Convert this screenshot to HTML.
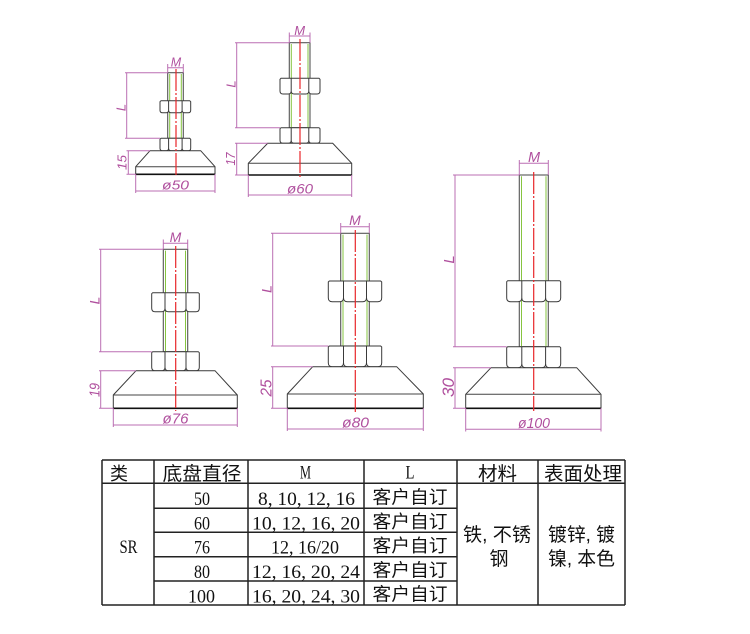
<!DOCTYPE html>
<html><head><meta charset="utf-8"><style>
html,body{margin:0;padding:0;background:#fff;}
svg{display:block;}
.d{stroke:#bb6fb3;stroke-width:1;fill:none;}
.t{fill:#b0509e;font-family:"Liberation Sans",sans-serif;font-style:italic;}
.o{stroke:#3a3a3a;stroke-width:1;fill:#fff;}
.s{stroke:#555;stroke-width:1.1;fill:#fff;}
.g{stroke:#86c440;stroke-width:1;fill:none;}
.r{stroke:#e8262a;stroke-width:1.2;fill:none;stroke-dasharray:22 2 2 2;}
.bl{stroke:#111;stroke-width:1.6;fill:none;}
.ml{stroke:#444;stroke-width:1;fill:none;}
.tb{stroke:#222;stroke-width:1.5;fill:none;}
.cj{font-family:"Liberation Sans","Noto Sans CJK SC",sans-serif;fill:#111;}
.sf{font-family:"Liberation Serif",serif;fill:#111;}
</style></head><body>
<svg width="750" height="634" viewBox="0 0 750 634" xmlns="http://www.w3.org/2000/svg">

<!-- ============ FOOT 1 (ø50) ============ -->
<rect class="s" x="167.7" y="72.7" width="15.6" height="65.6"/>
<path class="g" d="M169.7 74 V138.3 M181.3 74 V138.3"/>
<path class="o" d="M160 101.7 L161 100.7 H189.7 L190.7 101.7 V110.2 Q190.7 112.7 188.2 112.7 H184.6 Q182.1 112.7 182.1 110.2 Q182.1 112.7 179.6 112.7 H171.1 Q168.6 112.7 168.6 110.2 Q168.6 112.7 166.1 112.7 H162.5 Q160 112.7 160 110.2 Z M168.6 100.7 V110.2 M182.1 100.7 V110.2"/>
<path class="o" d="M160 139.3 L161 138.3 H189.7 L190.7 139.3 V148.2 Q190.7 150.7 188.2 150.7 H184.6 Q182.1 150.7 182.1 148.2 Q182.1 150.7 179.6 150.7 H171.1 Q168.6 150.7 168.6 148.2 Q168.6 150.7 166.1 150.7 H162.5 Q160 150.7 160 148.2 Z M168.6 138.3 V148.2 M182.1 138.3 V148.2"/>
<polygon class="o" points="150,150.7 200.7,150.7 215,166.7 215,174.3 135.7,174.3 135.7,166.7"/>
<path class="ml" d="M135.7 166.7 H215"/>
<path class="bl" d="M135.7 174.3 H215"/>
<path class="d" d="M167.7 72.7 V64 M183.3 72.7 V64 M167.7 67.7 H183.3 M126.7 72.7 V138.3 M125 72.7 H167.7 M125 138.3 H160 M128.3 150.7 V174.3 M126.5 150.7 H150 M126.5 174.3 H135.7 M135.7 174.3 V193 M215 174.3 V193 M135.7 191 H215"/>
<text class="t" x="176" y="66.3" font-size="12.5" text-anchor="middle">M</text>
<text class="t" font-size="13" text-anchor="middle" transform="translate(125.5,107.5) rotate(-90)">L</text>
<text class="t" font-size="13" text-anchor="middle" textLength="15" lengthAdjust="spacingAndGlyphs" transform="translate(126.5,162.5) rotate(-90)">15</text>
<text class="t" x="175.5" y="189.5" font-size="13" text-anchor="middle" textLength="27" lengthAdjust="spacingAndGlyphs">ø50</text>
<path class="r" d="M176 69 V177"/>

<!-- ============ FOOT 2 (ø60) ============ -->
<rect class="s" x="289.3" y="42.7" width="20.7" height="85"/>
<path class="g" d="M291.3 44 V127.7 M308 44 V127.7"/>
<path class="o" d="M280 79.3 L281 78.3 H319 L320 79.3 V91 Q320 94 317 94 H311.8 Q308.8 94 308.8 91 Q308.8 94 305.8 94 H294.2 Q291.2 94 291.2 91 Q291.2 94 288.2 94 H283 Q280 94 280 91 Z M291.2 78.3 V91 M308.8 78.3 V91"/>
<path class="o" d="M280 128.7 L281 127.7 H319 L320 128.7 V140.3 Q320 143.3 317 143.3 H311.8 Q308.8 143.3 308.8 140.3 Q308.8 143.3 305.8 143.3 H294.2 Q291.2 143.3 291.2 140.3 Q291.2 143.3 288.2 143.3 H283 Q280 143.3 280 140.3 Z M291.2 127.7 V140.3 M308.8 127.7 V140.3"/>
<polygon class="o" points="267.7,143.3 332.7,143.3 351.7,163.3 351.7,175 248.3,175 248.3,163.3"/>
<path class="ml" d="M248.3 163.3 H351.7"/>
<path class="bl" d="M248.3 175 H351.7"/>
<path class="d" d="M289.3 42.7 V32.5 M310 42.7 V32.5 M289.3 36 H310 M236.7 42.7 V127.7 M235 42.7 H289.3 M235 127.7 H280 M236.7 143.3 V175 M235 143.3 H267.7 M235 175 H248.3 M248.3 175 V197 M351.7 175 V197 M248.3 195 H351.7"/>
<text class="t" x="299.7" y="34.8" font-size="13" text-anchor="middle">M</text>
<text class="t" font-size="13" text-anchor="middle" transform="translate(235.5,84) rotate(-90)">L</text>
<text class="t" font-size="13" text-anchor="middle" textLength="13" lengthAdjust="spacingAndGlyphs" transform="translate(235,159) rotate(-90)">17</text>
<text class="t" x="300" y="193.5" font-size="13.5" text-anchor="middle" textLength="26" lengthAdjust="spacingAndGlyphs">ø60</text>
<path class="r" d="M300 39 V178"/>

<!-- ============ FOOT 3 (ø76) ============ -->
<rect class="s" x="163.3" y="249.3" width="24.4" height="102.4"/>
<path class="g" d="M165.5 250.6 V351.7 M185.5 250.6 V351.7"/>
<path class="o" d="M151.7 293.7 L152.7 292.7 H198.3 L199.3 293.7 V308.2 Q199.3 311.7 195.8 311.7 H189.5 Q186 311.7 186 308.2 Q186 311.7 182.5 311.7 H168.5 Q165 311.7 165 308.2 Q165 311.7 161.5 311.7 H155.2 Q151.7 311.7 151.7 308.2 Z M165 292.7 V308.2 M186 292.7 V308.2"/>
<path class="o" d="M151.7 352.7 L152.7 351.7 H198.3 L199.3 352.7 V367.2 Q199.3 370.7 195.8 370.7 H189.5 Q186 370.7 186 367.2 Q186 370.7 182.5 370.7 H168.5 Q165 370.7 165 367.2 Q165 370.7 161.5 370.7 H155.2 Q151.7 370.7 151.7 367.2 Z M165 351.7 V367.2 M186 351.7 V367.2"/>
<polygon class="o" points="136,370.7 215,370.7 237.3,395 237.3,408.3 113.3,408.3 113.3,395"/>
<path class="ml" d="M113.3 395 H237.3"/>
<path class="bl" d="M113.3 408.3 H237.3"/>
<path class="d" d="M163.3 249.3 V239.5 M187.7 249.3 V239.5 M163.3 243.3 H187.7 M100.7 249.3 V351.7 M99 249.3 H163.3 M99 351.7 H151.7 M100.7 370.7 V408.3 M99 370.7 H136 M99 408.3 H113.3 M113.3 408.3 V427 M237.3 408.3 V427 M113.3 425 H237.3"/>
<text class="t" x="175.5" y="242" font-size="14" text-anchor="middle">M</text>
<text class="t" font-size="14" text-anchor="middle" transform="translate(99.5,300.5) rotate(-90)">L</text>
<text class="t" font-size="15" text-anchor="middle" textLength="14" lengthAdjust="spacingAndGlyphs" transform="translate(99.5,390) rotate(-90)">19</text>
<text class="t" x="175.5" y="423.5" font-size="14.5" text-anchor="middle" textLength="26" lengthAdjust="spacingAndGlyphs">ø76</text>
<path class="r" d="M175.7 246 V411"/>

<!-- ============ FOOT 4 (ø80) ============ -->
<rect class="s" x="340.7" y="233.3" width="28.6" height="112.7"/>
<path class="g" d="M343 234.6 V346 M367 234.6 V346"/>
<path class="o" d="M328.3 282 L329.3 281 H380.7 L381.7 282 V297.7 Q381.7 301.7 377.7 301.7 H370.5 Q366.5 301.7 366.5 297.7 Q366.5 301.7 362.5 301.7 H347.5 Q343.5 301.7 343.5 297.7 Q343.5 301.7 339.5 301.7 H332.3 Q328.3 301.7 328.3 297.7 Z M343.5 281 V297.7 M366.5 281 V297.7"/>
<path class="o" d="M328.3 347 L329.3 346 H380.7 L381.7 347 V362.7 Q381.7 366.7 377.7 366.7 H370.5 Q366.5 366.7 366.5 362.7 Q366.5 366.7 362.5 366.7 H347.5 Q343.5 366.7 343.5 362.7 Q343.5 366.7 339.5 366.7 H332.3 Q328.3 366.7 328.3 362.7 Z M343.5 346 V362.7 M366.5 346 V362.7"/>
<polygon class="o" points="312.7,366.7 396.7,366.7 423.3,394 423.3,408.3 287.3,408.3 287.3,394"/>
<path class="ml" d="M287.3 394 H423.3"/>
<path class="bl" d="M287.3 408.3 H423.3"/>
<path class="d" d="M340.7 233.3 V223 M369.3 233.3 V223 M340.7 226.7 H369.3 M272.7 233.3 V346 M271 233.3 H340.7 M271 346 H328.3 M272.7 366.7 V408.3 M271 366.7 H312.7 M271 408.3 H287.3 M287.3 408.3 V431 M423.3 408.3 V431 M287.3 429 H423.3"/>
<text class="t" x="355" y="225.2" font-size="14" text-anchor="middle">M</text>
<text class="t" font-size="14" text-anchor="middle" transform="translate(271.5,289) rotate(-90)">L</text>
<text class="t" font-size="16" text-anchor="middle" textLength="17" lengthAdjust="spacingAndGlyphs" transform="translate(271.5,388) rotate(-90)">25</text>
<text class="t" x="355.5" y="427.5" font-size="15" text-anchor="middle" textLength="27" lengthAdjust="spacingAndGlyphs">ø80</text>
<path class="r" d="M355.3 230 V412"/>

<!-- ============ FOOT 5 (ø100) ============ -->
<rect class="s" x="519.3" y="175" width="29" height="171.7"/>
<path class="g" d="M521.5 176.3 V346.7 M546 176.3 V346.7"/>
<path class="o" d="M506.7 281.7 L507.7 280.7 H559.7 L560.7 281.7 V297.7 Q560.7 301.7 556.7 301.7 H549.6 Q545.6 301.7 545.6 297.7 Q545.6 301.7 541.6 301.7 H525.8 Q521.8 301.7 521.8 297.7 Q521.8 301.7 517.8 301.7 H510.7 Q506.7 301.7 506.7 297.7 Z M521.8 280.7 V297.7 M545.6 280.7 V297.7"/>
<path class="o" d="M506.7 347.7 L507.7 346.7 H559.7 L560.7 347.7 V363.7 Q560.7 367.7 556.7 367.7 H549.6 Q545.6 367.7 545.6 363.7 Q545.6 367.7 541.6 367.7 H525.8 Q521.8 367.7 521.8 363.7 Q521.8 367.7 517.8 367.7 H510.7 Q506.7 367.7 506.7 363.7 Z M521.8 346.7 V363.7 M545.6 346.7 V363.7"/>
<polygon class="o" points="491,367.7 576.7,367.7 601,394.3 601,408.3 465.7,408.3 465.7,394.3"/>
<path class="ml" d="M465.7 394.3 H601"/>
<path class="bl" d="M465.7 408.3 H601"/>
<path class="d" d="M519.3 175 V160 M548.3 175 V160 M519.3 163.3 H548.3 M455 175 V346.7 M453 175 H519.3 M453 346.7 H506.7 M455 367.7 V408.3 M453 367.7 H491 M453 408.3 H465.7 M465.7 408.3 V431.5 M601 408.3 V431.5 M465.7 429.3 H601"/>
<text class="t" x="534" y="162" font-size="14.5" text-anchor="middle">M</text>
<text class="t" font-size="15" text-anchor="middle" transform="translate(454,259.5) rotate(-90)">L</text>
<text class="t" font-size="17" text-anchor="middle" textLength="19" lengthAdjust="spacingAndGlyphs" transform="translate(454,387.5) rotate(-90)">30</text>
<text class="t" x="534" y="428" font-size="14.5" text-anchor="middle" textLength="32" lengthAdjust="spacingAndGlyphs">ø100</text>
<path class="r" d="M533.7 172 V411"/>

<!-- ============ TABLE ============ -->
<path class="tb" d="M102 460 H625 M102 483.3 H625 M102 605 H625 M154 508.3 H457 M154 532.3 H457 M154 556.7 H457 M154 581 H457 M102 460 V605 M154 460 V605 M248 460 V605 M364 460 V605 M457 460 V605 M538 460 V605 M625 460 V605"/>

<!-- header -->
<text class="cj" x="119" y="480" font-size="18" text-anchor="middle">类</text>
<text class="cj" x="202" y="480" font-size="19" text-anchor="middle" textLength="79" lengthAdjust="spacingAndGlyphs">底盘直径</text>
<text class="sf" x="305.5" y="478.5" font-size="19" text-anchor="middle" textLength="11" lengthAdjust="spacingAndGlyphs">M</text>
<text class="sf" x="410" y="478.5" font-size="19" text-anchor="middle" textLength="9" lengthAdjust="spacingAndGlyphs">L</text>
<text class="cj" x="497.5" y="480" font-size="19" text-anchor="middle" textLength="39" lengthAdjust="spacingAndGlyphs">材料</text>
<text class="cj" x="583" y="480" font-size="19" text-anchor="middle" textLength="78" lengthAdjust="spacingAndGlyphs">表面处理</text>

<!-- SR -->
<text class="sf" x="128.5" y="553" font-size="19" text-anchor="middle" textLength="18" lengthAdjust="spacingAndGlyphs">SR</text>

<!-- diameters -->
<text class="sf" x="202" y="505" font-size="19" text-anchor="middle" textLength="16" lengthAdjust="spacingAndGlyphs">50</text>
<text class="sf" x="202" y="529.5" font-size="19" text-anchor="middle" textLength="16" lengthAdjust="spacingAndGlyphs">60</text>
<text class="sf" x="202" y="553.5" font-size="19" text-anchor="middle" textLength="16" lengthAdjust="spacingAndGlyphs">76</text>
<text class="sf" x="202" y="578" font-size="19" text-anchor="middle" textLength="16" lengthAdjust="spacingAndGlyphs">80</text>
<text class="sf" x="201.5" y="602.5" font-size="19" text-anchor="middle" textLength="27" lengthAdjust="spacingAndGlyphs">100</text>

<!-- M values -->
<text class="sf" x="306.5" y="505" font-size="19" text-anchor="middle" textLength="97" lengthAdjust="spacingAndGlyphs">8, 10, 12, 16</text>
<text class="sf" x="306" y="529.5" font-size="19" text-anchor="middle" textLength="108" lengthAdjust="spacingAndGlyphs">10, 12, 16, 20</text>
<text class="sf" x="305" y="553.5" font-size="19" text-anchor="middle" textLength="68" lengthAdjust="spacingAndGlyphs">12, 16/20</text>
<text class="sf" x="306" y="578" font-size="19" text-anchor="middle" textLength="108" lengthAdjust="spacingAndGlyphs">12, 16, 20, 24</text>
<text class="sf" x="306" y="602.5" font-size="19" text-anchor="middle" textLength="108" lengthAdjust="spacingAndGlyphs">16, 20, 24, 30</text>

<!-- L values -->
<text class="cj" x="410" y="503.5" font-size="18" text-anchor="middle" textLength="75" lengthAdjust="spacingAndGlyphs">客户自订</text>
<text class="cj" x="410" y="528" font-size="18" text-anchor="middle" textLength="75" lengthAdjust="spacingAndGlyphs">客户自订</text>
<text class="cj" x="410" y="552" font-size="18" text-anchor="middle" textLength="75" lengthAdjust="spacingAndGlyphs">客户自订</text>
<text class="cj" x="410" y="576.5" font-size="18" text-anchor="middle" textLength="75" lengthAdjust="spacingAndGlyphs">客户自订</text>
<text class="cj" x="410" y="600.5" font-size="18" text-anchor="middle" textLength="75" lengthAdjust="spacingAndGlyphs">客户自订</text>

<!-- material -->
<text class="cj" x="497" y="541" font-size="19" text-anchor="middle" textLength="68" lengthAdjust="spacingAndGlyphs">铁, 不锈</text>
<text class="cj" x="499" y="565" font-size="19" text-anchor="middle">钢</text>

<!-- surface -->
<text class="cj" x="581.5" y="541" font-size="19" text-anchor="middle" textLength="67" lengthAdjust="spacingAndGlyphs">镀锌, 镀</text>
<text class="cj" x="581.5" y="565" font-size="19" text-anchor="middle" textLength="67" lengthAdjust="spacingAndGlyphs">镍, 本色</text>

</svg>
</body></html>
